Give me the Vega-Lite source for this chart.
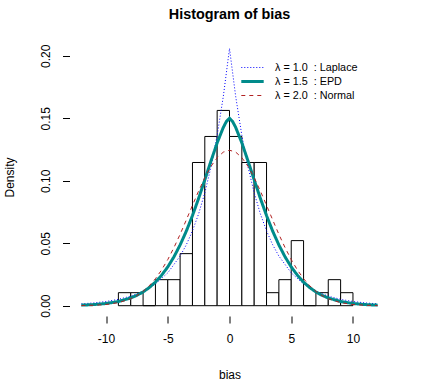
{
  "$schema": "https://vega.github.io/schema/vega-lite/v6.json",
  "autosize": "none",
  "width": 320,
  "height": 278,
  "padding": {"left": 69.5, "top": 38, "right": 35.5, "bottom": 66},
  "background": "white",
  "config": {
    "view": {"stroke": null},
    "font": "Liberation Sans",
    "axis": {"labelFont": "Liberation Sans", "titleFont": "Liberation Sans", "labelFontSize": 12, "titleFontSize": 12, "titleFontWeight": "normal", "labelColor": "black", "titleColor": "black", "tickColor": "black", "domain": false, "grid": false, "tickSize": 7},
    "title": {"font": "Liberation Sans", "fontSize": 14.4, "fontWeight": "bold", "color": "black"}
  },
  "title": {"text": "Histogram of bias", "anchor": "middle", "offset": 16},
  "datasets": {
    "hist": [
      {"start": -9, "end": -8, "density": 0.010417},
      {"start": -8, "end": -7, "density": 0.010417},
      {"start": -7, "end": -6, "density": 0},
      {"start": -6, "end": -5, "density": 0.020833},
      {"start": -5, "end": -4, "density": 0.020833},
      {"start": -4, "end": -3, "density": 0.041667},
      {"start": -3, "end": -2, "density": 0.114583},
      {"start": -2, "end": -1, "density": 0.135417},
      {"start": -1, "end": 0, "density": 0.15625},
      {"start": 0, "end": 1, "density": 0.135417},
      {"start": 1, "end": 2, "density": 0.114583},
      {"start": 2, "end": 3, "density": 0.114583},
      {"start": 3, "end": 4, "density": 0.010417},
      {"start": 4, "end": 5, "density": 0.020833},
      {"start": 5, "end": 6, "density": 0.052083},
      {"start": 6, "end": 7, "density": 0},
      {"start": 7, "end": 8, "density": 0.010417},
      {"start": 8, "end": 9, "density": 0.020833},
      {"start": 9, "end": 10, "density": 0.010417}
    ],
    "curves": [
      {"dist": "Laplace", "bias": -12, "density": 0.00147},
      {"dist": "Laplace", "bias": -11, "density": 0.00223},
      {"dist": "Laplace", "bias": -10, "density": 0.00336},
      {"dist": "Laplace", "bias": -9, "density": 0.00507},
      {"dist": "Laplace", "bias": -8, "density": 0.00765},
      {"dist": "Laplace", "bias": -7, "density": 0.0115},
      {"dist": "Laplace", "bias": -6, "density": 0.0174},
      {"dist": "Laplace", "bias": -5, "density": 0.0263},
      {"dist": "Laplace", "bias": -4, "density": 0.0397},
      {"dist": "Laplace", "bias": -3.5, "density": 0.0487},
      {"dist": "Laplace", "bias": -3, "density": 0.0599},
      {"dist": "Laplace", "bias": -2.5, "density": 0.0735},
      {"dist": "Laplace", "bias": -2, "density": 0.0903},
      {"dist": "Laplace", "bias": -1.5, "density": 0.111},
      {"dist": "Laplace", "bias": -1, "density": 0.1363},
      {"dist": "Laplace", "bias": -0.5, "density": 0.1675},
      {"dist": "Laplace", "bias": 0, "density": 0.2058},
      {"dist": "Laplace", "bias": 0.5, "density": 0.1675},
      {"dist": "Laplace", "bias": 1, "density": 0.1363},
      {"dist": "Laplace", "bias": 1.5, "density": 0.111},
      {"dist": "Laplace", "bias": 2, "density": 0.0903},
      {"dist": "Laplace", "bias": 2.5, "density": 0.0735},
      {"dist": "Laplace", "bias": 3, "density": 0.0599},
      {"dist": "Laplace", "bias": 3.5, "density": 0.0487},
      {"dist": "Laplace", "bias": 4, "density": 0.0397},
      {"dist": "Laplace", "bias": 5, "density": 0.0263},
      {"dist": "Laplace", "bias": 6, "density": 0.0174},
      {"dist": "Laplace", "bias": 7, "density": 0.0115},
      {"dist": "Laplace", "bias": 8, "density": 0.00765},
      {"dist": "Laplace", "bias": 9, "density": 0.00507},
      {"dist": "Laplace", "bias": 10, "density": 0.00336},
      {"dist": "Laplace", "bias": 11, "density": 0.00223},
      {"dist": "Laplace", "bias": 12, "density": 0.00147},
      {"dist": "EPD", "bias": -12, "density": 0.00043},
      {"dist": "EPD", "bias": -11, "density": 0.00088},
      {"dist": "EPD", "bias": -10, "density": 0.00174},
      {"dist": "EPD", "bias": -9, "density": 0.00334},
      {"dist": "EPD", "bias": -8, "density": 0.00618},
      {"dist": "EPD", "bias": -7.5, "density": 0.0083},
      {"dist": "EPD", "bias": -7, "density": 0.011},
      {"dist": "EPD", "bias": -6.5, "density": 0.0145},
      {"dist": "EPD", "bias": -6, "density": 0.0189},
      {"dist": "EPD", "bias": -5.5, "density": 0.0244},
      {"dist": "EPD", "bias": -5, "density": 0.031},
      {"dist": "EPD", "bias": -4.5, "density": 0.0391},
      {"dist": "EPD", "bias": -4, "density": 0.0486},
      {"dist": "EPD", "bias": -3.5, "density": 0.0596},
      {"dist": "EPD", "bias": -3, "density": 0.0721},
      {"dist": "EPD", "bias": -2.5, "density": 0.0859},
      {"dist": "EPD", "bias": -2, "density": 0.1007},
      {"dist": "EPD", "bias": -1.5, "density": 0.1158},
      {"dist": "EPD", "bias": -1, "density": 0.1303},
      {"dist": "EPD", "bias": -0.5, "density": 0.1427},
      {"dist": "EPD", "bias": -0.25, "density": 0.1474},
      {"dist": "EPD", "bias": 0, "density": 0.15},
      {"dist": "EPD", "bias": 0.25, "density": 0.1474},
      {"dist": "EPD", "bias": 0.5, "density": 0.1427},
      {"dist": "EPD", "bias": 1, "density": 0.1303},
      {"dist": "EPD", "bias": 1.5, "density": 0.1158},
      {"dist": "EPD", "bias": 2, "density": 0.1007},
      {"dist": "EPD", "bias": 2.5, "density": 0.0859},
      {"dist": "EPD", "bias": 3, "density": 0.0721},
      {"dist": "EPD", "bias": 3.5, "density": 0.0596},
      {"dist": "EPD", "bias": 4, "density": 0.0486},
      {"dist": "EPD", "bias": 4.5, "density": 0.0391},
      {"dist": "EPD", "bias": 5, "density": 0.031},
      {"dist": "EPD", "bias": 5.5, "density": 0.0244},
      {"dist": "EPD", "bias": 6, "density": 0.0189},
      {"dist": "EPD", "bias": 6.5, "density": 0.0145},
      {"dist": "EPD", "bias": 7, "density": 0.011},
      {"dist": "EPD", "bias": 7.5, "density": 0.0083},
      {"dist": "EPD", "bias": 8, "density": 0.00618},
      {"dist": "EPD", "bias": 9, "density": 0.00334},
      {"dist": "EPD", "bias": 10, "density": 0.00174},
      {"dist": "EPD", "bias": 11, "density": 0.00088},
      {"dist": "EPD", "bias": 12, "density": 0.00043},
      {"dist": "Normal", "bias": -12, "density": 0.00011},
      {"dist": "Normal", "bias": -11, "density": 0.00035},
      {"dist": "Normal", "bias": -10, "density": 0.00096},
      {"dist": "Normal", "bias": -9, "density": 0.00243},
      {"dist": "Normal", "bias": -8, "density": 0.00554},
      {"dist": "Normal", "bias": -7.5, "density": 0.00808},
      {"dist": "Normal", "bias": -7, "density": 0.01149},
      {"dist": "Normal", "bias": -6.5, "density": 0.01595},
      {"dist": "Normal", "bias": -6, "density": 0.0216},
      {"dist": "Normal", "bias": -5.5, "density": 0.0286},
      {"dist": "Normal", "bias": -5, "density": 0.0369},
      {"dist": "Normal", "bias": -4.5, "density": 0.0465},
      {"dist": "Normal", "bias": -4, "density": 0.0571},
      {"dist": "Normal", "bias": -3.5, "density": 0.0686},
      {"dist": "Normal", "bias": -3, "density": 0.0803},
      {"dist": "Normal", "bias": -2.5, "density": 0.0918},
      {"dist": "Normal", "bias": -2, "density": 0.1024},
      {"dist": "Normal", "bias": -1.5, "density": 0.1115},
      {"dist": "Normal", "bias": -1, "density": 0.1185},
      {"dist": "Normal", "bias": -0.5, "density": 0.1229},
      {"dist": "Normal", "bias": 0, "density": 0.1244},
      {"dist": "Normal", "bias": 0.5, "density": 0.1229},
      {"dist": "Normal", "bias": 1, "density": 0.1185},
      {"dist": "Normal", "bias": 1.5, "density": 0.1115},
      {"dist": "Normal", "bias": 2, "density": 0.1024},
      {"dist": "Normal", "bias": 2.5, "density": 0.0918},
      {"dist": "Normal", "bias": 3, "density": 0.0803},
      {"dist": "Normal", "bias": 3.5, "density": 0.0686},
      {"dist": "Normal", "bias": 4, "density": 0.0571},
      {"dist": "Normal", "bias": 4.5, "density": 0.0465},
      {"dist": "Normal", "bias": 5, "density": 0.0369},
      {"dist": "Normal", "bias": 5.5, "density": 0.0286},
      {"dist": "Normal", "bias": 6, "density": 0.0216},
      {"dist": "Normal", "bias": 6.5, "density": 0.01595},
      {"dist": "Normal", "bias": 7, "density": 0.01149},
      {"dist": "Normal", "bias": 7.5, "density": 0.00808},
      {"dist": "Normal", "bias": 8, "density": 0.00554},
      {"dist": "Normal", "bias": 9, "density": 0.00243},
      {"dist": "Normal", "bias": 10, "density": 0.00096},
      {"dist": "Normal", "bias": 11, "density": 0.00035},
      {"dist": "Normal", "bias": 12, "density": 0.00011}
    ]
  },
  "layer": [
    {
      "data": {"name": "hist"},
      "mark": {"type": "bar", "fill": "white", "stroke": "black", "strokeWidth": 1},
      "encoding": {
        "x": {"field": "start", "type": "quantitative", "scale": {"domain": [-12.96, 12.96], "nice": false, "zero": false},
              "axis": {"values": [-10, -5, 0, 5, 10], "labelExpr": "toString(datum.value)", "title": "bias", "labelPadding": 10, "titlePadding": 25}},
        "x2": {"field": "end"},
        "y": {"field": "density", "type": "quantitative", "scale": {"domain": [-0.00824, 0.2142], "nice": false, "zero": false},
              "axis": {"values": [0, 0.05, 0.1, 0.15, 0.2], "format": ".2f", "title": "Density", "labelAngle": 270, "labelAlign": "center", "labelBaseline": "bottom", "labelPadding": 10, "titlePadding": 23}},
        "y2": {"datum": 0}
      }
    },
    {
      "data": {"name": "curves"},
      "mark": {"type": "line", "strokeCap": "butt"},
      "encoding": {
        "x": {"field": "bias", "type": "quantitative"},
        "y": {"field": "density", "type": "quantitative"},
        "color": {"field": "dist", "type": "nominal", "title": null,
          "scale": {"domain": ["Laplace", "EPD", "Normal"], "range": ["#0000FF", "#008B8B", "#B22222"]},
          "legend": {"orient": "none", "legendX": 174.5, "legendY": 22, "padding": 0, "rowPadding": 0,
            "symbolType": "M-1.6,0H1.6", "symbolSize": 196, "labelFontSize": 10.8, "labelFont": "Liberation Sans", "labelColor": "black", "labelOffset": 14,
            "labelExpr": "datum.label == 'Laplace' ? 'λ = 1.0\u00a0 : Laplace' : datum.label == 'EPD' ? 'λ = 1.5\u00a0 : EPD' : 'λ = 2.0\u00a0 : Normal'"}},
        "strokeDash": {"field": "dist", "type": "nominal", "title": null,
          "scale": {"domain": ["Laplace", "EPD", "Normal"], "range": [[1, 2], [1, 0], [4, 4]]}},
        "strokeWidth": {"field": "dist", "type": "nominal", "title": null,
          "scale": {"type": "ordinal", "domain": ["Laplace", "EPD", "Normal"], "range": [1, 3, 1]}}
      }
    },
    {
      "mark": {"type": "rule", "color": "black", "strokeWidth": 1},
      "encoding": {"x": {"datum": -10}, "x2": {"datum": 10}, "y": {"datum": -0.00824}}
    },
    {
      "mark": {"type": "rule", "color": "black", "strokeWidth": 1},
      "encoding": {"y": {"datum": 0}, "y2": {"datum": 0.2}, "x": {"datum": -12.96}}
    }
  ]
}
